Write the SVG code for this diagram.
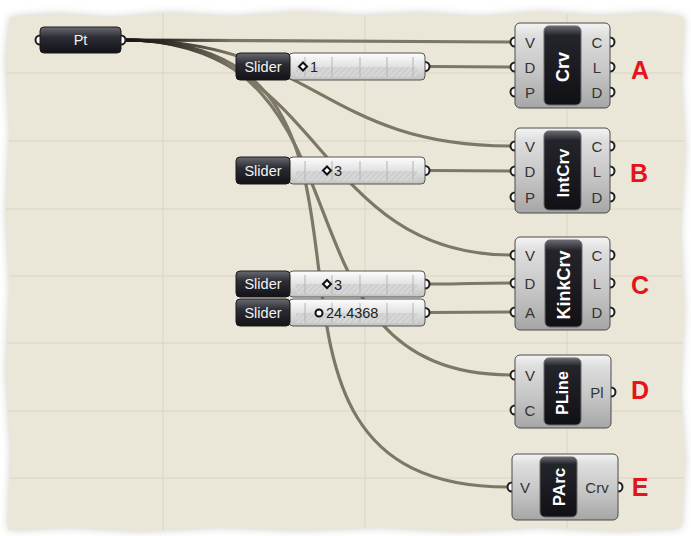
<svg xmlns="http://www.w3.org/2000/svg" width="691" height="536" viewBox="0 0 691 536">
<defs>
<style>
.wire{fill:none;stroke:#7d7866;stroke-width:3.2;stroke-linecap:round}
.pw{stroke:url(#wg)}
.port{fill:#fff;stroke:#1e1e1e;stroke-width:2}
.comp{fill:url(#cg);stroke:#4a4a4a;stroke-width:1}
.cap{fill:url(#ig);stroke:#6a6a6a;stroke-width:1}
.dark{fill:url(#dg);stroke:#1a1a1a;stroke-width:1}
.sbody{fill:url(#sg);stroke:#555;stroke-width:1}
.hatch{fill:url(#hp)}
.tick{stroke:#b4b4b4;stroke-width:1}
.pl{font-family:"Liberation Sans",Arial,sans-serif;font-size:15px;fill:#333;text-anchor:middle}
.cl{font-family:"Liberation Sans",Arial,sans-serif;font-weight:bold;fill:#fff;text-anchor:middle}
.wl{font-family:"Liberation Sans",Arial,sans-serif;font-size:14.5px;fill:#f2f2f2;text-anchor:middle}
.val{font-family:"Liberation Sans",Arial,sans-serif;font-size:14.5px;fill:#222}
.mk{fill:#fff;stroke:#111;stroke-width:2}
.tag{font-family:"Liberation Sans",Arial,sans-serif;font-weight:bold;font-size:25px;fill:#e3151b;text-anchor:middle}
.grid{stroke:#d9d4c1;stroke-width:1}
</style>
<linearGradient id="wg" gradientUnits="userSpaceOnUse" x1="125" y1="0" x2="235" y2="0">
<stop offset="0" stop-color="#151515"/><stop offset="0.35" stop-color="#2a2924"/><stop offset="1" stop-color="#7d7866"/>
</linearGradient>
<linearGradient id="cg" x1="0" y1="0" x2="0" y2="1">
<stop offset="0" stop-color="#f4f4f4"/><stop offset="0.15" stop-color="#dedede"/><stop offset="0.6" stop-color="#c4c4c4"/><stop offset="1" stop-color="#a6a6a6"/>
</linearGradient>
<linearGradient id="ig" x1="0" y1="0" x2="0" y2="1">
<stop offset="0" stop-color="#6a6a72"/><stop offset="0.12" stop-color="#24242b"/><stop offset="1" stop-color="#101015"/>
</linearGradient>
<linearGradient id="dg" x1="0" y1="0" x2="0" y2="1">
<stop offset="0" stop-color="#6a6a72"/><stop offset="0.4" stop-color="#2c2c34"/><stop offset="1" stop-color="#121217"/>
</linearGradient>
<linearGradient id="sg" x1="0" y1="0" x2="0" y2="1">
<stop offset="0" stop-color="#fdfdfd"/><stop offset="0.5" stop-color="#e2e2e2"/><stop offset="1" stop-color="#c2c2c2"/>
</linearGradient>
<pattern id="hp" width="4" height="4" patternUnits="userSpaceOnUse" patternTransform="rotate(45)">
<rect width="4" height="4" fill="#d6d6d6"/><line x1="0" y1="0" x2="0" y2="4" stroke="#c2c2c2" stroke-width="1.4"/>
</pattern>
<filter id="blur" x="-5%" y="-5%" width="110%" height="110%"><feGaussianBlur stdDeviation="4"/></filter>
<clipPath id="paperClip"><path d="M10,17 L60,14 L110,18 L170,13 L230,17 L300,12 L360,16 L420,13 L480,17 L540,12 L600,16 L650,13 L684,17 L681,80 L685,150 L680,230 L684,310 L680,390 L685,460 L681,528 L620,531 L540,527 L460,531 L380,527 L300,530 L220,527 L140,531 L70,527 L8,530 L11,450 L6,370 L10,290 L6,210 L10,130 L6,60 Z"/></clipPath>
</defs>

<rect width="691" height="536" fill="#ffffff"/>
<g id="paper">
<path d="M10,17 L60,14 L110,18 L170,13 L230,17 L300,12 L360,16 L420,13 L480,17 L540,12 L600,16 L650,13 L684,17 L681,80 L685,150 L680,230 L684,310 L680,390 L685,460 L681,528 L620,531 L540,527 L460,531 L380,527 L300,530 L220,527 L140,531 L70,527 L8,530 L11,450 L6,370 L10,290 L6,210 L10,130 L6,60 Z" fill="#a8a496" opacity="0.6" filter="url(#blur)"/>
<path d="M10,17 L60,14 L110,18 L170,13 L230,17 L300,12 L360,16 L420,13 L480,17 L540,12 L600,16 L650,13 L684,17 L681,80 L685,150 L680,230 L684,310 L680,390 L685,460 L681,528 L620,531 L540,527 L460,531 L380,527 L300,530 L220,527 L140,531 L70,527 L8,530 L11,450 L6,370 L10,290 L6,210 L10,130 L6,60 Z" fill="#ebe7d8"/>
<g clip-path="url(#paperClip)">
<line class="grid" x1="163" y1="0" x2="163" y2="536"/>
<line class="grid" x1="365" y1="0" x2="365" y2="536"/>
<line class="grid" x1="567" y1="0" x2="567" y2="536"/>
<line class="grid" x1="0" y1="73" x2="691" y2="73"/>
<line class="grid" x1="0" y1="141" x2="691" y2="141"/>
<line class="grid" x1="0" y1="209" x2="691" y2="209"/>
<line class="grid" x1="0" y1="276" x2="691" y2="276"/>
<line class="grid" x1="0" y1="343" x2="691" y2="343"/>
<line class="grid" x1="0" y1="411" x2="691" y2="411"/>
<line class="grid" x1="0" y1="478" x2="691" y2="478"/>
</g>
</g>

<g id="connectors">
<path class="wire pw" d="M125,40 C255,40 383,42 511,42"/>
<path class="wire pw" d="M125,40 C316,40 321,146 511,146"/>
<path class="wire pw" d="M125,40 C324,40 313,255 511,255"/>
<path class="wire pw" d="M125,40 C387,40 258,375 511,375"/>
<path class="wire pw" d="M125,40 C455,40 182,487 508,487"/>
<path class="wire" d="M429,66.5 C470,66.5 470,67 511,67"/>
<path class="wire" d="M429,170.5 C470,170.5 470,171 511,171"/>
<path class="wire" d="M429,284 C470,284 470,283 511,283"/>
<path class="wire" d="M429,312.5 C470,312.5 470,312 511,312"/>
</g>

<g id="node-pt">
<circle class="port" cx="40" cy="40" r="4.5"/>
<circle class="port" cx="121" cy="40" r="4.5"/>
<rect class="dark" x="40" y="27" width="81" height="26" rx="4"/>
<text class="wl" x="80.5" y="45">Pt</text>
</g>

<g id="slider-1">
<circle class="port" cx="425" cy="66.5" r="4.5"/>
<rect class="sbody" x="289" y="53" width="136" height="27" rx="4"/>
<rect class="hatch" x="296" y="67" width="121" height="10"/>
<line class="tick" x1="305" y1="57" x2="305" y2="77"/><line class="tick" x1="332" y1="57" x2="332" y2="77"/><line class="tick" x1="360" y1="57" x2="360" y2="77"/><line class="tick" x1="387" y1="57" x2="387" y2="77"/><line class="tick" x1="413" y1="57" x2="413" y2="77"/>
<rect class="dark" x="236" y="53" width="54" height="27" rx="4"/>
<text class="wl" x="263" y="71.5">Slider</text>
<path class="mk" d="M303,62.5 L307,66.5 L303,70.5 L299,66.5 Z"/>
<text class="val" x="310" y="72">1</text>
</g>

<g id="slider-2">
<circle class="port" cx="425" cy="170.5" r="4.5"/>
<rect class="sbody" x="289" y="157" width="136" height="27" rx="4"/>
<rect class="hatch" x="296" y="171" width="121" height="10"/>
<line class="tick" x1="305" y1="161" x2="305" y2="181"/><line class="tick" x1="332" y1="161" x2="332" y2="181"/><line class="tick" x1="360" y1="161" x2="360" y2="181"/><line class="tick" x1="387" y1="161" x2="387" y2="181"/><line class="tick" x1="413" y1="161" x2="413" y2="181"/>
<rect class="dark" x="236" y="157" width="54" height="27" rx="4"/>
<text class="wl" x="263" y="175.5">Slider</text>
<path class="mk" d="M327,166.5 L331,170.5 L327,174.5 L323,170.5 Z"/>
<text class="val" x="334" y="176">3</text>
</g>

<g id="slider-3">
<circle class="port" cx="425" cy="284" r="4.5"/>
<rect class="sbody" x="289" y="271" width="136" height="26" rx="4"/>
<rect class="hatch" x="296" y="284" width="121" height="10"/>
<line class="tick" x1="305" y1="275" x2="305" y2="294"/><line class="tick" x1="332" y1="275" x2="332" y2="294"/><line class="tick" x1="360" y1="275" x2="360" y2="294"/><line class="tick" x1="387" y1="275" x2="387" y2="294"/><line class="tick" x1="413" y1="275" x2="413" y2="294"/>
<rect class="dark" x="236" y="271" width="54" height="26" rx="4"/>
<text class="wl" x="263" y="289">Slider</text>
<path class="mk" d="M327,280 L331,284 L327,288 L323,284 Z"/>
<text class="val" x="334" y="289.5">3</text>
</g>

<g id="slider-4">
<circle class="port" cx="425" cy="312.5" r="4.5"/>
<rect class="sbody" x="289" y="299" width="136" height="27" rx="4"/>
<rect class="hatch" x="296" y="313" width="121" height="10"/>
<line class="tick" x1="305" y1="303" x2="305" y2="323"/><line class="tick" x1="332" y1="303" x2="332" y2="323"/><line class="tick" x1="360" y1="303" x2="360" y2="323"/><line class="tick" x1="387" y1="303" x2="387" y2="323"/><line class="tick" x1="413" y1="303" x2="413" y2="323"/>
<rect class="dark" x="236" y="299" width="54" height="27" rx="4"/>
<text class="wl" x="263" y="317.5">Slider</text>
<circle class="mk" cx="319" cy="313" r="3.5"/>
<text class="val" x="326" y="318">24.4368</text>
</g>

<g id="node-crv">
<circle class="port" cx="515" cy="42" r="4.5"/>
<circle class="port" cx="515" cy="67" r="4.5"/>
<circle class="port" cx="515" cy="92" r="4.5"/>
<circle class="port" cx="610" cy="42" r="4.5"/>
<circle class="port" cx="610" cy="67" r="4.5"/>
<circle class="port" cx="610" cy="92" r="4.5"/>
<rect class="comp" x="515" y="23" width="95" height="85" rx="5"/>
<rect class="cap" x="544" y="26" width="37" height="79" rx="5"/>
<text class="pl" x="530" y="47.5">V</text><text class="pl" x="530" y="72.5">D</text><text class="pl" x="530" y="97.5">P</text>
<text class="pl" x="597" y="47.5">C</text><text class="pl" x="597" y="72.5">L</text><text class="pl" x="597" y="97.5">D</text>
<text class="cl" font-size="18" transform="translate(562.5,67) rotate(-90)" dy="6.3">Crv</text>
<text class="tag" x="640" y="79">A</text>
</g>

<g id="node-intcrv">
<circle class="port" cx="515" cy="146" r="4.5"/>
<circle class="port" cx="515" cy="171" r="4.5"/>
<circle class="port" cx="515" cy="197" r="4.5"/>
<circle class="port" cx="610" cy="146" r="4.5"/>
<circle class="port" cx="610" cy="171" r="4.5"/>
<circle class="port" cx="610" cy="197" r="4.5"/>
<rect class="comp" x="515" y="128" width="95" height="85" rx="5"/>
<rect class="cap" x="544" y="131" width="37" height="79" rx="5"/>
<text class="pl" x="530" y="151.5">V</text><text class="pl" x="530" y="176.5">D</text><text class="pl" x="530" y="202.5">P</text>
<text class="pl" x="597" y="151.5">C</text><text class="pl" x="597" y="176.5">L</text><text class="pl" x="597" y="202.5">D</text>
<text class="cl" font-size="17" transform="translate(562.5,173) rotate(-90)" dy="6">IntCrv</text>
<text class="tag" x="639" y="182">B</text>
</g>

<g id="node-kinkcrv">
<circle class="port" cx="515" cy="255" r="4.5"/>
<circle class="port" cx="515" cy="283" r="4.5"/>
<circle class="port" cx="515" cy="312" r="4.5"/>
<circle class="port" cx="610" cy="255" r="4.5"/>
<circle class="port" cx="610" cy="283" r="4.5"/>
<circle class="port" cx="610" cy="312" r="4.5"/>
<rect class="comp" x="515" y="237" width="95" height="93" rx="5"/>
<rect class="cap" x="545" y="240" width="37" height="87" rx="5"/>
<text class="pl" x="530" y="260.5">V</text><text class="pl" x="530" y="288.5">D</text><text class="pl" x="530" y="317.5">A</text>
<text class="pl" x="597" y="260.5">C</text><text class="pl" x="597" y="288.5">L</text><text class="pl" x="597" y="317.5">D</text>
<text class="cl" font-size="18" transform="translate(563.5,285) rotate(-90)" dy="6.3">KinkCrv</text>
<text class="tag" x="640" y="294">C</text>
</g>

<g id="node-pline">
<circle class="port" cx="515" cy="375" r="4.5"/>
<circle class="port" cx="515" cy="410" r="4.5"/>
<circle class="port" cx="611" cy="392" r="4.5"/>
<rect class="comp" x="515" y="355" width="96" height="73" rx="5"/>
<rect class="cap" x="544" y="358" width="37" height="67" rx="5"/>
<text class="pl" x="530" y="380.5">V</text><text class="pl" x="530" y="415.5">C</text>
<text class="pl" x="597" y="397.5">Pl</text>
<text class="cl" font-size="16" transform="translate(562.5,393) rotate(-90)" dy="5.6">PLine</text>
<text class="tag" x="640" y="399">D</text>
</g>

<g id="node-parc">
<circle class="port" cx="512" cy="487" r="4.5"/>
<circle class="port" cx="618" cy="487" r="4.5"/>
<rect class="comp" x="512" y="454" width="106" height="66" rx="5"/>
<rect class="cap" x="540" y="457" width="37" height="60" rx="5"/>
<text class="pl" x="525" y="492.5">V</text>
<text class="pl" x="597" y="492.5">Crv</text>
<text class="cl" font-size="17" transform="translate(558.5,487) rotate(-90)" dy="6">PArc</text>
<text class="tag" x="640" y="496">E</text>
</g>
</svg>
